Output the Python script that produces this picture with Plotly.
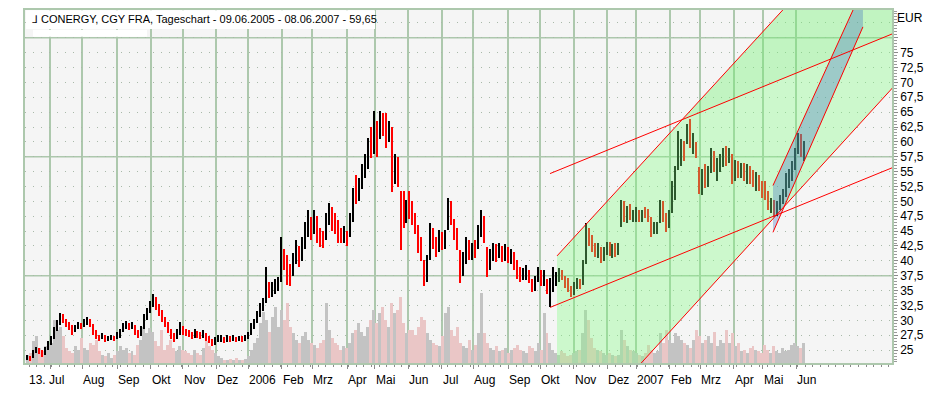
import numpy as np
import pandas as pd
import plotly.graph_objects as go

# ---------------- data (2-day bars) ----------------
low = [23.3, 23.2, 23.6, 24.5, 24.3, 23.8, 24.2, 25.0, 25.8,
       26.8, 28.2, 29.3, 29.5, 28.8, 28.3, 27.5, 28.0, 28.6, 28.5,
       28.8, 29.2, 28.8, 27.6, 26.9, 26.5, 26.8, 26.4, 26.5, 26.7, 26.5, 26.8,
       27.0, 28.0, 28.6, 28.3, 28.6, 27.6, 27.0, 27.4, 28.5, 30.0, 31.2, 32.3,
       31.8, 30.8, 29.8, 28.8, 27.8, 26.8, 26.3, 26.8, 27.5, 27.6,
       27.3, 27.2, 26.8, 27.0, 27.0, 26.9, 27.0, 26.6, 26.2, 25.7, 25.8, 26.3,
       26.4, 26.2, 26.4, 26.4, 26.6, 26.3, 26.5, 26.4, 26.6, 26.8,
       27.5, 28.6, 29.5, 30.5, 31.5, 33.0, 33.8, 34.0, 34.5, 35.0, 36.5,
       38.5, 36.0, 35.7, 37.5, 39.5, 39.0, 40.0, 42.0, 44.0, 43.5, 44.5,
       43.0, 42.3, 42.2, 43.5, 46.0, 45.0, 44.5, 43.0, 43.0, 43.0, 42.5,
       44.0, 46.5, 49.5, 50.0, 52.0, 54.0, 55.5, 57.3, 58.0, 57.5,
       60.5, 61.0, 59.0, 60.0, 51.5, 53.0, 52.5, 41.8, 45.5, 46.3, 47.0,
       46.0, 44.5, 41.3, 40.0, 35.7, 36.5, 40.2, 42.0, 40.7, 41.5, 41.8, 42.0,
       45.2, 46.0, 43.5, 41.8, 36.3, 37.5, 39.5, 40.2, 40.2, 40.5,
       42.0, 44.0, 43.0, 37.3, 38.5, 40.0, 39.8, 40.5, 39.8, 40.0, 39.7, 39.5,
       38.5, 37.0, 36.5, 36.8, 36.8, 36.3, 34.7, 35.0, 36.5, 35.8,
       35.8, 34.5, 32.2, 34.7, 35.8, 36.5, 36.8, 35.5, 34.7, 34.0, 34.3,
       35.2, 35.2, 36.0, 39.5, 42.5, 41.5, 40.7, 40.5, 39.7, 40.0, 41.0,
       40.8, 40.5, 40.7, 41.0, 45.7, 46.5, 46.3, 46.8, 46.5, 46.5,
       46.5, 46.5, 47.2, 46.5, 44.0, 44.5, 44.5, 46.3, 46.5, 44.8, 45.5,
       48.0, 50.2, 55.2, 56.0, 56.8, 59.7, 59.0, 58.0, 57.3, 51.3,
       51.0, 52.3, 52.5, 54.7, 55.0, 53.5, 55.0, 55.7, 56.0, 56.5, 53.0,
       53.5, 54.0, 54.0, 53.5, 53.0, 53.0, 52.5, 51.8, 51.8, 50.5, 50.2,
       48.5, 48.0, 47.3, 47.5, 48.5, 49.5, 50.7, 52.3, 53.5, 55.2, 58.0, 57.5, 56.8]

high = [24.2, 24.0, 25.0, 25.6, 25.4, 25.0, 25.5, 26.5, 27.3,
        28.8, 30.0, 31.3, 31.0, 30.3, 29.8, 29.2, 29.3, 29.8, 29.6,
        30.2, 30.5, 30.2, 29.4, 28.3, 27.6, 27.8, 27.5, 27.4, 27.5, 27.3, 28.0,
        28.6, 29.5, 29.9, 29.6, 29.8, 29.3, 28.3, 29.0, 31.0, 32.0, 33.2, 34.5,
        34.0, 32.8, 31.8, 30.6, 29.7, 28.6, 27.8, 28.6, 29.7, 29.0,
        28.6, 28.4, 28.0, 28.5, 28.2, 28.0, 28.3, 27.9, 27.4, 26.9, 27.2, 27.5,
        27.6, 27.2, 27.6, 27.3, 27.6, 27.2, 27.4, 27.3, 27.5, 28.0,
        29.5, 30.3, 31.5, 33.0, 33.8, 39.0, 36.5, 36.5, 37.0, 37.3, 44.0,
        42.0, 41.0, 39.5, 41.3, 43.5, 42.5, 44.0, 46.5, 48.5, 47.3, 48.5,
        47.5, 45.5, 45.0, 48.0, 49.7, 49.0, 48.0, 46.8, 45.5, 45.8, 45.0,
        48.0, 52.3, 54.5, 54.0, 56.3, 58.0, 60.7, 62.5, 65.2, 63.5,
        65.2, 64.8, 64.8, 63.5, 62.5, 58.0, 57.5, 51.8, 51.8, 50.2, 51.8,
        50.0, 48.0, 46.0, 44.0, 40.2, 41.0, 46.3, 45.5, 44.0, 45.2, 44.8, 45.2,
        50.5, 50.0, 47.0, 45.5, 41.8, 41.5, 44.0, 43.5, 43.0, 43.5,
        46.0, 48.5, 47.5, 42.3, 42.0, 43.0, 42.8, 43.0, 42.5, 42.8, 42.3, 42.0,
        41.5, 40.2, 39.0, 38.8, 39.3, 38.5, 37.0, 37.5, 39.0, 38.5,
        38.5, 37.0, 37.2, 39.0, 38.2, 38.8, 38.5, 37.5, 37.2, 35.8, 36.5,
        37.2, 37.0, 40.2, 46.3, 45.5, 44.3, 43.0, 43.0, 42.3, 42.3, 43.2,
        43.2, 42.8, 43.0, 43.0, 50.2, 50.0, 49.3, 49.5, 48.5, 49.0,
        48.5, 48.5, 49.0, 48.8, 47.3, 46.5, 46.5, 50.2, 50.0, 48.0, 48.5,
        53.5, 56.0, 61.8, 60.5, 60.2, 63.0, 63.8, 61.5, 60.0, 55.7,
        55.5, 56.3, 56.0, 59.0, 58.5, 57.3, 58.0, 59.0, 59.3, 59.0, 58.0,
        57.0, 56.8, 56.5, 56.5, 56.3, 56.0, 55.2, 55.0, 54.5, 53.5, 53.5,
        51.8, 50.5, 50.2, 50.0, 51.0, 52.0, 54.7, 55.5, 56.8, 59.0, 61.5, 61.3, 60.2]

close = [23.8, 23.5, 24.6, 25.2, 24.8, 24.3, 25.0, 26.0, 26.8,
         28.5, 29.5, 30.6, 30.0, 29.4, 29.0, 28.2, 28.8, 29.2, 29.0,
         29.6, 30.0, 29.3, 28.0, 27.4, 27.0, 27.3, 26.8, 27.0, 27.1, 26.9, 27.2,
         28.2, 29.0, 29.4, 28.9, 29.3, 28.0, 27.6, 28.6, 30.5, 31.5, 32.8, 33.8,
         32.5, 31.5, 30.2, 29.5, 28.2, 27.5, 27.0, 27.8, 28.5, 28.3,
         28.0, 27.8, 27.3, 27.9, 27.6, 27.5, 27.8, 27.3, 26.8, 26.2, 26.5, 26.9,
         27.0, 26.6, 27.1, 26.9, 27.2, 26.8, 27.0, 26.9, 27.1, 27.4,
         28.8, 29.7, 31.0, 32.2, 33.0, 35.5, 35.0, 35.3, 35.8, 36.2, 41.5,
         40.5, 38.5, 37.8, 40.0, 41.5, 40.5, 42.5, 44.5, 46.5, 45.5, 47.0,
         45.5, 44.2, 43.5, 46.0, 48.5, 47.0, 46.5, 44.0, 43.8, 44.3, 43.5,
         47.0, 51.0, 50.5, 53.0, 55.5, 56.5, 59.5, 58.5, 63.5, 59.0,
         64.0, 62.0, 60.5, 62.5, 55.0, 56.5, 53.5, 50.0, 47.5, 49.5, 48.0,
         47.0, 45.5, 42.0, 41.0, 37.0, 40.0, 44.5, 43.0, 42.0, 44.0, 42.5, 44.5,
         49.0, 47.0, 44.5, 42.5, 38.5, 40.5, 42.0, 41.0, 42.5, 42.0,
         45.0, 47.0, 44.0, 39.0, 41.5, 41.5, 41.0, 42.0, 41.0, 41.8, 40.5, 41.0,
         39.0, 38.0, 37.2, 38.0, 38.5, 36.8, 35.3, 37.0, 38.2, 36.5,
         36.5, 35.0, 36.0, 36.5, 37.5, 38.3, 37.2, 36.0, 35.5, 34.8, 35.5,
         36.5, 35.8, 39.5, 44.5, 43.0, 42.0, 41.5, 42.5, 40.5, 41.8, 42.5,
         41.5, 42.2, 41.3, 42.5, 49.0, 47.5, 48.5, 47.2, 47.5, 48.0,
         47.5, 48.0, 47.8, 47.0, 44.5, 45.8, 46.2, 49.5, 47.0, 45.5, 48.0,
         53.0, 55.5, 57.0, 59.5, 58.0, 62.5, 60.0, 60.5, 57.8, 52.0,
         54.5, 53.0, 55.5, 57.5, 56.0, 56.5, 57.5, 58.5, 57.2, 58.0, 54.0,
         56.0, 55.0, 56.0, 54.5, 55.5, 54.0, 53.0, 54.0, 52.5, 51.5, 51.0,
         49.0, 49.5, 48.0, 49.5, 50.0, 51.5, 53.5, 54.0, 56.0, 58.5, 60.5, 58.0, 59.65]

volume = [25, 30, 66, 80, 45, 35, 50, 55, 60,
          130, 100, 110, 80, 45, 35, 30, 50, 40, 75,
          45, 40, 60, 55, 70, 35, 25, 20, 30, 15, 25, 35,
          50, 40, 45, 30, 35, 25, 55, 70, 110, 90, 105, 95,
          65, 50, 100, 40, 55, 70, 45, 35, 50, 40,
          35, 30, 25, 40, 30, 25, 45, 65, 50, 40, 30, 20,
          15, 10, 8, 12, 10, 15, 8, 10, 12, 20,
          40, 60, 75, 120, 155, 130, 95, 140, 170, 110, 160,
          130, 180, 110, 90, 70, 60, 80, 95, 70, 60, 55,
          45, 60, 70, 180, 100, 75, 60, 55, 40, 50, 45,
          60, 90, 100, 120, 95, 80, 110, 130, 160, 120,
          150, 170, 130, 110, 180, 150, 160, 200, 120, 90, 100,
          100, 85, 110, 140, 130, 90, 70, 60, 55, 50, 80, 150,
          170, 100, 80, 110, 60, 50, 45, 70, 40, 55,
          90, 210, 90, 60, 45, 40, 50, 35, 40, 45, 30, 40,
          45, 55, 40, 35, 30, 50, 45, 35, 60, 40,
          150, 90, 60, 40, 30, 25, 35, 30, 20, 25, 30,
          35, 40, 90, 160, 130, 75, 45, 40, 35, 30, 25,
          30, 25, 20, 25, 100, 70, 50, 40, 35, 30,
          25, 20, 30, 55, 40, 30, 35, 90, 60, 100, 70,
          60, 90, 80, 70, 60, 55, 45, 70, 100, 80,
          60, 70, 80, 60, 95, 50, 70, 60, 100, 60, 90,
          50, 60, 35, 40, 30, 45, 50, 40, 35, 30, 55,
          40, 30, 50, 35, 30, 45, 35, 40, 55, 60, 50, 45, 60]

assert len(low) == len(high) == len(close) == len(volume)

# trading calendar (FRA), holidays removed
first_day, last_day = "2005-06-09", "2007-06-08"
holidays = ["2005-12-26", "2006-04-14", "2006-04-17", "2006-05-01", "2006-12-25",
            "2006-12-26", "2007-01-01", "2007-04-06", "2007-04-09", "2007-05-01"]

first_label = "13. Jul"
month_labels = ["Aug", "Sep", "Okt", "Nov", "Dez", "2006", "Feb", "Mrz", "Apr", "Mai",
                "Jun", "Jul", "Aug", "Sep", "Okt", "Nov", "Dez", "2007", "Feb", "Mrz",
                "Apr", "Mai", "Jun"]

price_ticks = [22.5 + 2.5 * i for i in range(25)]
price_labels_range = (25, 75)
major_price_lines = [37.5, 57.5, 77.5]

# trend lines: (start day index, start price, end day index, end price)
channel_p_upper = (344.3, 54.67, 567.7, 78.0)
channel_p_lower = (344.3, 32.17, 567.7, 55.5)
channel_s_upper = (348.9, 40.83, 469.1, 74.33)
channel_s_lower = (348.9, 7.33, 469.1, 41.0)
blue_upper = (490.8, 52.67, 543.4, 82.17)
blue_lower = (490.8, 44.8, 549.9, 79.33)

title_text = "\u2143 CONERGY, CGY FRA, Tageschart - 09.06.2005 - 08.06.2007 - 59,65"

# ---------------- derived ----------------
days = pd.bdate_range(first_day, last_day)
days = days[~days.isin(pd.to_datetime(holidays))]
n_days = len(days)
n = len(close)
bar_x = (np.arange(n) + 0.5) * n_days / n
opens = [close[0]] + close[:-1]
up = np.array([c >= o for c, o in zip(close, opens)])
low_a, high_a, vol_a = np.array(low), np.array(high), np.array(volume)

month_starts = pd.date_range("2005-07-01", "2007-06-01", freq="MS")
month_idx = [int(np.searchsorted(days.values, np.datetime64(m))) for m in month_starts]

X0, X1 = -0.66, 569.0
Y0, Y1 = 22.83, 82.17

def line_val(l, d):
    d0, p0, d1, p1 = l
    return p0 + (p1 - p0) * (d - d0) / (d1 - d0)

FONT = "Liberation Sans, Arial, sans-serif"
GRID = "#adc8ad"

fig = go.Figure()

# volume (primary hidden y)
bw = n_days / n
fig.add_trace(go.Bar(x=bar_x[up], y=vol_a[up], width=bw, marker=dict(color="#c3c3c3", line=dict(width=0)),
                     yaxis="y", hoverinfo="skip"))
fig.add_trace(go.Bar(x=bar_x[~up], y=vol_a[~up], width=bw, marker=dict(color="#eac6c6", line=dict(width=0)),
                     yaxis="y", hoverinfo="skip"))
# price bars
pw = 0.9
fig.add_trace(go.Bar(x=bar_x[up], y=(high_a - low_a)[up], base=low_a[up], width=pw,
                     marker=dict(color="#000000", line=dict(width=0)), yaxis="y2"))
fig.add_trace(go.Bar(x=bar_x[~up], y=(high_a - low_a)[~up], base=low_a[~up], width=pw,
                     marker=dict(color="#ff0000", line=dict(width=0)), yaxis="y2"))

shapes = []
for v in major_price_lines:
    shapes.append(dict(type="line", xref="paper", yref="y2", x0=0, x1=1, y0=v, y1=v,
                       line=dict(color=GRID, width=1.5), layer="below"))

XE = 580.0
def poly(pts):
    return "M " + " L ".join(f"{a},{b}" for a, b in pts) + " Z"

ds = channel_s_upper[0]
s_pts = [(ds, line_val(channel_s_upper, ds)), (XE, line_val(channel_s_upper, XE)),
         (XE, line_val(channel_s_lower, XE)), (ds, line_val(channel_s_lower, ds))]
shapes.append(dict(type="path", xref="x", yref="y2", path=poly(s_pts),
                   fillcolor="rgba(128,255,128,0.35)", line=dict(width=0), layer="above"))
a1 = (channel_p_upper[3] - channel_p_upper[1]) / (channel_p_upper[2] - channel_p_upper[0])
a3 = (channel_s_upper[3] - channel_s_upper[1]) / (channel_s_upper[2] - channel_s_upper[0])
dint = (channel_p_upper[1] - a1 * channel_p_upper[0] - channel_s_upper[1] + a3 * channel_s_upper[0]) / (a3 - a1)
dark_pts = [(dint, line_val(channel_s_upper, dint)), (XE, line_val(channel_s_upper, XE)),
            (XE, line_val(channel_p_upper, XE))]
shapes.append(dict(type="path", xref="x", yref="y2", path=poly(dark_pts),
                   fillcolor="rgba(60,200,60,0.07)", line=dict(width=0), layer="above"))

b0 = blue_upper[0]
b_end = blue_lower[2]
b_pts = [(b0, line_val(blue_upper, b0)), (b_end, line_val(blue_upper, b_end)),
         (b_end, line_val(blue_lower, b_end)), (b0, line_val(blue_lower, b0))]
shapes.append(dict(type="path", xref="x", yref="y2", path=poly(b_pts),
                   fillcolor="rgba(60,110,190,0.33)", line=dict(width=0), layer="above"))

for l, x_end in [(channel_p_upper, XE), (channel_p_lower, XE), (channel_s_upper, XE),
                 (channel_s_lower, XE), (blue_upper, b_end), (blue_lower, b_end)]:
    shapes.append(dict(type="line", xref="x", yref="y2", x0=l[0], y0=l[1],
                       x1=x_end, y1=line_val(l, x_end),
                       line=dict(color="#ff0000", width=1), layer="above"))

shapes.append(dict(type="rect", xref="paper", yref="paper", x0=0.001, x1=0.4037, y0=0.9465, y1=0.999,
                   fillcolor="white", line=dict(width=0), layer="above"))
shapes.append(dict(type="rect", xref="paper", yref="paper", x0=0.0092, x1=0.1407, y0=0.924, y1=0.9437,
                   fillcolor="white", line=dict(width=0), layer="above"))

annotations = [dict(text=title_text, xref="paper", yref="paper", x=0.0058, y=0.9746,
                    xanchor="left", yanchor="middle", showarrow=False,
                    font=dict(family=FONT, size=11, color="black")),
               dict(text="EUR", xref="paper", yref="paper", x=1.0035, y=0.978,
                    xanchor="left", yanchor="middle", showarrow=False,
                    font=dict(family=FONT, size=12, color="black")),
               dict(text=first_label, xref="x", yref="paper", x=X0, y=-0.048, xanchor="left",
                    yanchor="middle", xshift=2, showarrow=False,
                    font=dict(family=FONT, size=12, color="black"))]
for lab, idx in zip(month_labels, month_idx[1:]):
    annotations.append(dict(text=lab, xref="x", yref="paper", x=idx, y=-0.048, xanchor="left",
                            yanchor="middle", xshift=-1, showarrow=False,
                            font=dict(family=FONT, size=12, color="black")))

price_text = [(f"{v:g}".replace(".", ",") if price_labels_range[0] <= v <= price_labels_range[1] else "")
              for v in price_ticks]

# the page body has an 8px margin; the figure is sized/offset to compensate
fig.update_layout(
    width=941, height=389,
    margin=dict(l=17, r=57, t=0, b=34),
    paper_bgcolor="white", plot_bgcolor="#f5f5f5",
    showlegend=False, barmode="overlay", bargap=0,
    shapes=shapes, annotations=annotations,
    font=dict(family=FONT, size=12, color="black"),
    xaxis=dict(range=[X0, X1], tickmode="array", tickvals=month_idx, showticklabels=False,
               showgrid=True, gridcolor=GRID, gridwidth=1.5, zeroline=False,
               ticks="outside", ticklen=4, tickcolor="#8a8a8a",
               minor=dict(tick0=2, dtick=5, ticks="outside", ticklen=2, tickcolor="#8a8a8a", showgrid=False),
               showline=True, linecolor=GRID, linewidth=1.5, mirror=True),
    yaxis=dict(range=[0, 1065], visible=False, showgrid=False, zeroline=False),
    yaxis2=dict(range=[Y0, Y1], overlaying="y", side="right", tickmode="array",
                tickvals=price_ticks, ticktext=price_text, showgrid=True, gridcolor="#a9b9a9",
                griddash="1px,7px", gridwidth=1, zeroline=False,
                ticks="outside", ticklen=4, tickcolor="#8a8a8a",
                minor=dict(dtick=0.5, tick0=0, ticks="outside", ticklen=3, tickcolor="#9a9a9a", showgrid=False),
                showline=True, linecolor=GRID, linewidth=1.5, mirror=True,
                tickfont=dict(family=FONT, size=12, color="black")),
)

fig.write_html("out.html")
